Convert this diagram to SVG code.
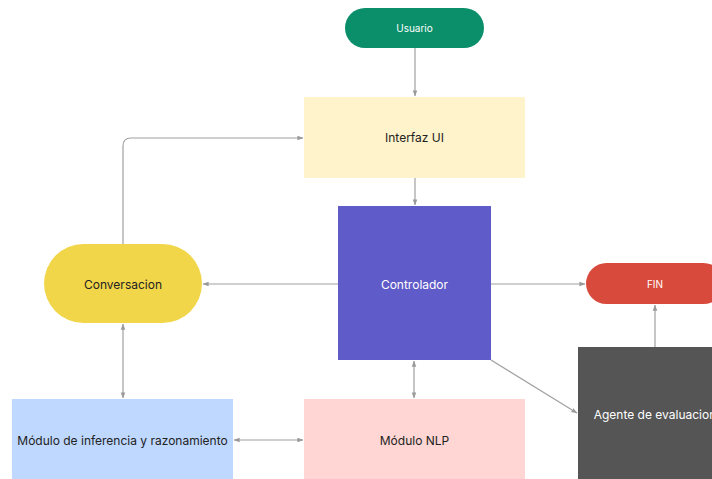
<svg xmlns="http://www.w3.org/2000/svg" width="712" height="479" viewBox="0 0 712 479">
<defs>
<marker id="ah" viewBox="0 0 8 8" refX="7.5" refY="4" markerWidth="6" markerHeight="6" orient="auto-start-reverse" markerUnits="userSpaceOnUse">
<path d="M0,1 L8,4 L0,7 z" fill="#9a9a9a"/>
</marker>
<style>
text{font-family:Inter,"Liberation Sans",sans-serif;text-anchor:middle;dominant-baseline:central}
.dark{fill:#222;font-size:12px}
.light{fill:#fff;font-size:12px}
.small{fill:#fff;font-size:10px}
.c{fill:none;stroke:#a0a0a0;stroke-width:1.2}
</style>
</defs>
<rect width="712" height="479" fill="#fff"/>
<g id="connectors">
<path class="c" d="M415,48 V96" marker-end="url(#ah)"/>
<path class="c" d="M415,178 V205" marker-end="url(#ah)"/>
<path class="c" d="M338,284 H203" marker-end="url(#ah)"/>
<path class="c" d="M123,244 V146 Q123,138 131,138 H303" marker-end="url(#ah)"/>
<path class="c" d="M123,324 V398" marker-start="url(#ah)" marker-end="url(#ah)"/>
<path class="c" d="M234,440 H303" marker-start="url(#ah)" marker-end="url(#ah)"/>
<path class="c" d="M414,361 V398" marker-start="url(#ah)" marker-end="url(#ah)"/>
<path class="c" d="M491,284 H585" marker-end="url(#ah)"/>
<path class="c" d="M655,347 V305" marker-end="url(#ah)"/>
<path class="c" d="M491,360 L577,413" marker-end="url(#ah)"/>
</g>
<g id="usuario">
<rect x="345" y="8" width="139" height="40" rx="20" fill="#0a8f6a"/>
<text class="small" x="414.5" y="28">Usuario</text>
</g>
<g id="interfaz">
<rect x="304" y="97" width="221" height="81" fill="#fff3cc"/>
<text class="dark" x="414.5" y="137.5">Interfaz UI</text>
</g>
<g id="controlador">
<rect x="338" y="206" width="153" height="154" fill="#5f5bc8"/>
<text class="light" x="414.5" y="284">Controlador</text>
</g>
<g id="conversacion">
<rect x="44" y="244" width="158" height="79" rx="39.5" fill="#f2d64a"/>
<text class="dark" x="123" y="284">Conversacion</text>
</g>
<g id="fin">
<rect x="586" y="263" width="138" height="41" rx="20.5" fill="#d84a3b"/>
<text class="small" x="655" y="284">FIN</text>
</g>
<g id="inferencia">
<rect x="12" y="399" width="221" height="85" fill="#bfd8ff"/>
<text class="dark" x="122.5" y="440">Módulo de inferencia y razonamiento</text>
</g>
<g id="nlp">
<rect x="304" y="399" width="221" height="85" fill="#ffd6d3"/>
<text class="dark" x="414.5" y="440">Módulo NLP</text>
</g>
<g id="agente">
<rect x="578" y="347" width="154" height="140" fill="#555555"/>
<text class="light" x="655" y="414">Agente de evaluacion</text>
</g>
</svg>
